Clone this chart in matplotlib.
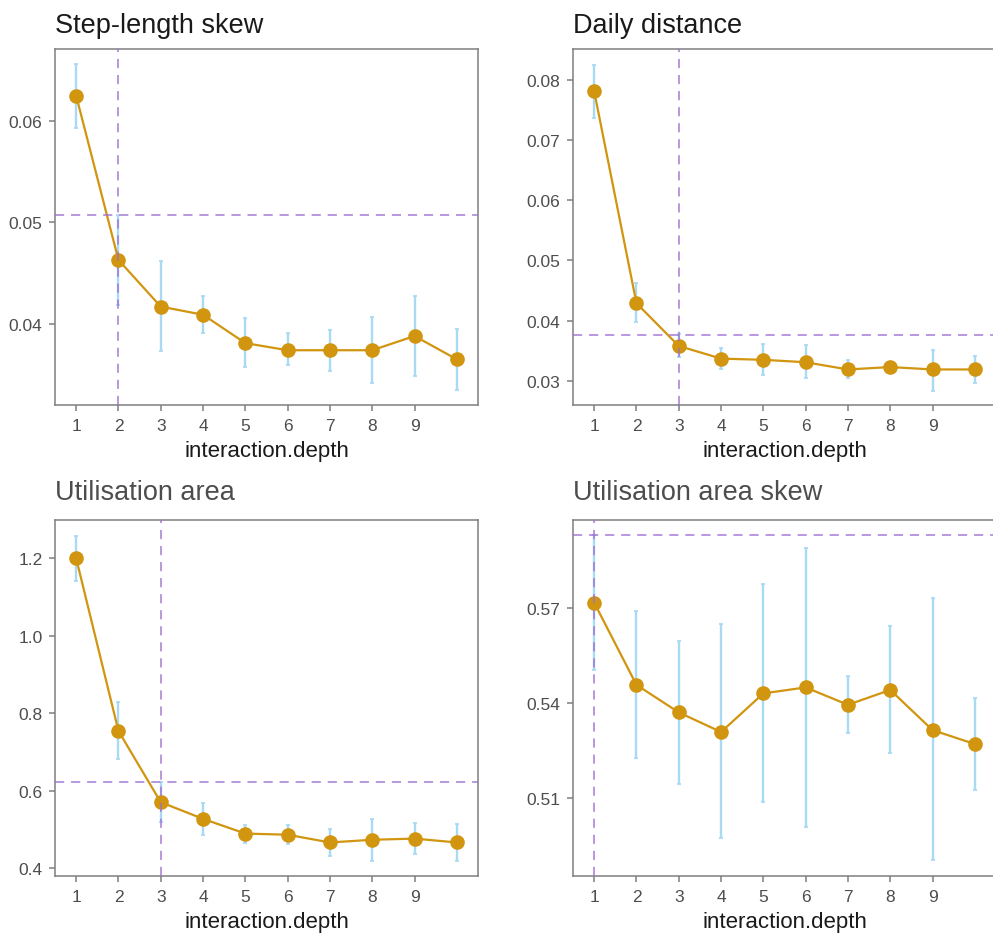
import numpy as np
import matplotlib
matplotlib.use("Agg")
import matplotlib.pyplot as plt

plt.rcParams["font.family"] = ["Liberation Sans", "DejaVu Sans"]

depth = [1, 2, 3, 4, 5, 6, 7, 8, 9, 10]

# step-length skew
step_mean = [0.0625, 0.0463, 0.0417, 0.0409, 0.0381, 0.0374, 0.0374, 0.0374, 0.0388, 0.0365]
step_lo = [0.0593, 0.0419, 0.0373, 0.0391, 0.0357, 0.0359, 0.0354, 0.0342, 0.0349, 0.0335]
step_hi = [0.0656, 0.0507, 0.0462, 0.0427, 0.0406, 0.0391, 0.0394, 0.0407, 0.0427, 0.0395]

# daily distance
dist_mean = [0.0781, 0.0429, 0.0358, 0.0337, 0.0335, 0.0331, 0.0319, 0.0323, 0.0319, 0.0319]
dist_lo = [0.0736, 0.0398, 0.0340, 0.0320, 0.0309, 0.0304, 0.0304, 0.0314, 0.0284, 0.0296]
dist_hi = [0.0825, 0.0463, 0.0378, 0.0355, 0.0362, 0.0359, 0.0334, 0.0332, 0.0352, 0.0341]

# utilisation area
area_mean = [1.200, 0.754, 0.570, 0.527, 0.489, 0.486, 0.466, 0.473, 0.476, 0.466]
area_lo = [1.141, 0.682, 0.519, 0.486, 0.465, 0.463, 0.431, 0.418, 0.435, 0.418]
area_hi = [1.258, 0.828, 0.622, 0.568, 0.510, 0.510, 0.502, 0.527, 0.516, 0.513]

# utilisation area skew
askew_mean = [0.5717, 0.5457, 0.5370, 0.5308, 0.5430, 0.5449, 0.5394, 0.5441, 0.5314, 0.5270]
askew_lo = [0.5505, 0.5226, 0.5145, 0.4973, 0.5086, 0.5007, 0.5305, 0.5243, 0.4902, 0.5126]
askew_hi = [0.5930, 0.5692, 0.5597, 0.5648, 0.5776, 0.5891, 0.5484, 0.5642, 0.5731, 0.5417]

titles = ["Step-length skew", "Daily distance", "Utilisation area", "Utilisation area skew"]
best_depth = [2, 3, 3, 1]
cutoff = [0.0507, 0.03756, 0.622, 0.5930]

panels = [
    (step_mean, step_lo, step_hi, [0.04, 0.05, 0.06], ["0.04", "0.05", "0.06"], (0.0320, 0.0671)),
    (dist_mean, dist_lo, dist_hi, [0.03, 0.04, 0.05, 0.06, 0.07, 0.08],
     ["0.03", "0.04", "0.05", "0.06", "0.07", "0.08"], (0.0260, 0.0851)),
    (area_mean, area_lo, area_hi, [0.4, 0.6, 0.8, 1.0, 1.2], ["0.4", "0.6", "0.8", "1.0", "1.2"], (0.3794, 1.2989)),
    (askew_mean, askew_lo, askew_hi, [0.51, 0.54, 0.57], ["0.51", "0.54", "0.57"], (0.4853, 0.5978)),
]

W, H = 993, 937
fig = plt.figure(figsize=(W / 100, H / 100), dpi=100)

# panel boxes in pixels: left, right, top, bottom
boxes = [(55, 478, 50, 406), (573, 996, 50, 406), (55, 478, 521, 877), (573, 996, 521, 877)]
title_col = ["#1a1a1a", "#1a1a1a", "#4d4d4d", "#4d4d4d"]
title_pad = [12.5, 12.5, 15, 15]

for i in range(4):
    mean, lo, hi, yt, ytl, ylim = panels[i]
    l, r, t, b = boxes[i]
    ax = fig.add_axes([l / W, 1 - b / H, (r - l) / W, (b - t) / H])
    mean = np.array(mean)
    err = [mean - np.array(lo), np.array(hi) - mean]
    ax.errorbar(depth, mean, yerr=err, fmt="none", ecolor="#a9daf4", elinewidth=1.7,
                capsize=1.5, capthick=1.3, zorder=2)
    ax.plot(depth, mean, color="#d1950f", lw=1.6, zorder=3)
    ax.plot(depth, mean, "o", color="#d1950f", ms=9.5, zorder=4)
    ax.axvline(best_depth[i], color="#9b6fcf", lw=1.1, dashes=(6, 4.5), alpha=0.9, zorder=5)
    ax.axhline(cutoff[i], color="#9b6fcf", lw=1.1, dashes=(6, 4.5), alpha=0.9, zorder=5)

    ax.set_xlim(0.5, 10.5)
    ax.set_ylim(*ylim)
    ax.set_xticks(range(1, 10))
    ax.set_yticks(yt)
    ax.set_yticklabels(ytl)
    ax.tick_params(colors="#7f7f7f", labelcolor="#4d4d4d", labelsize=12.5, length=4, width=1.1)
    ax.tick_params(axis="x", pad=5.5)
    ax.tick_params(axis="y", pad=5)
    for s in ax.spines.values():
        s.set_color("#7f7f7f")
        s.set_linewidth(1.1)
    ax.set_xlabel("interaction.depth", fontsize=16, color="#1a1a1a", labelpad=5)
    ax.set_title(titles[i], loc="left", fontsize=19.5, color=title_col[i], pad=title_pad[i])

plt.savefig("out.png", dpi=100)
